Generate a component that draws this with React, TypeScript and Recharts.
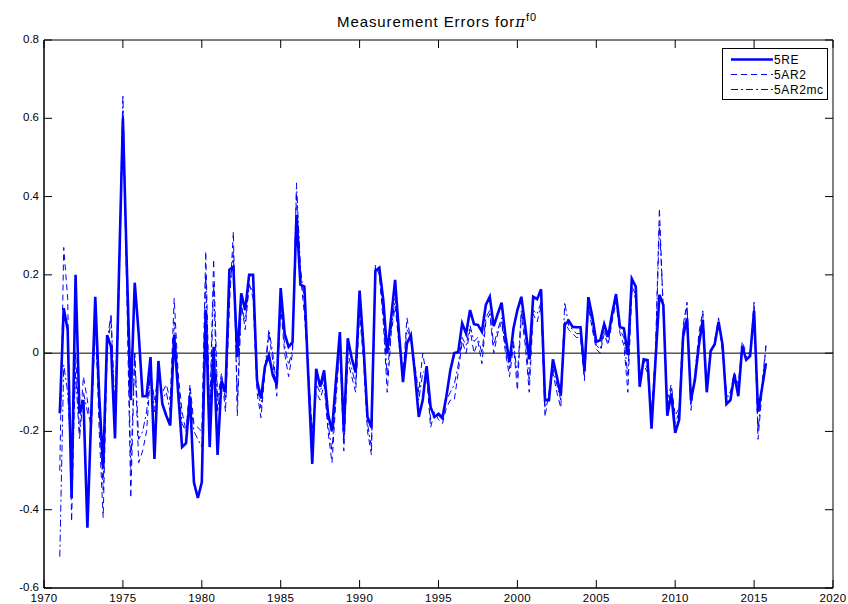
import {
  LineChart,
  Line,
  XAxis,
  YAxis,
  ReferenceLine,
  ReferenceArea,
  Legend,
} from "recharts";

// quarterly observations, first one is 1971Q1
const startYear = 1971;

const re5 = [
  -0.154, 0.115, 0.06, -0.37, 0.2, -0.154, -0.12, -0.446, -0.15, 0.144,
  -0.11, -0.295, 0.046, 0.016, -0.218, 0.2, 0.6, 0.22, -0.12, 0.18,
  0.05, -0.11, -0.11, -0.01, -0.27, -0.02, -0.13, -0.16, -0.185, 0.046,
  -0.1, -0.24, -0.23, -0.11, -0.33, -0.37, -0.33, 0.11, -0.24, 0.016,
  -0.26, -0.07, -0.1, 0.213, 0.22, -0.01, 0.153, 0.11, 0.2, 0.2,
  -0.07, -0.116, -0.035, -0.005, -0.056, -0.08, 0.166, 0.05, 0.016, 0.028,
  0.353, 0.175, 0.17, -0.06, -0.283, -0.04, -0.086, -0.044, -0.155, -0.2,
  -0.07, 0.054, -0.2, 0.038, -0.013, -0.05, 0.16, 0.016, -0.163, -0.19,
  0.21, 0.218, 0.136, 0, 0.09, 0.187, 0.05, -0.074, 0.025, 0.046,
  -0.05, -0.163, -0.12, -0.033, -0.138, -0.163, -0.155, -0.165, -0.11, -0.044,
  0, 0.003, 0.076, 0.05, 0.11, 0.074, 0.072, 0.055, 0.123, 0.144,
  0.069, 0.1, 0.129, 0.042, -0.023, 0.063, 0.11, 0.144, 0.067, -0.016,
  0.144, 0.138, 0.163, -0.12, -0.12, -0.016, -0.06, -0.108, 0.072, 0.083,
  0.067, 0.066, 0.066, -0.045, 0.143, 0.093, 0.029, 0.033, 0.074, 0.042,
  0.1, 0.151, 0.067, 0.063, -0.005, 0.19, 0.17, -0.086, -0.016, -0.018,
  -0.193, -0.02, 0.149, 0.123, -0.16, -0.103, -0.204, -0.17, 0.042, 0.089,
  -0.12, -0.068, 0.02, 0.085, -0.1, 0.006, 0.022, 0.08, 0.022, -0.13,
  -0.12, -0.055, -0.11, 0.018, -0.017, -0.007, 0.108, -0.15, -0.09, -0.026,
];

const ar2 = [
  -0.3, 0.27, 0.14, -0.43, 0.0, -0.2, -0.06, -0.12, -0.2, 0.1,
  -0.2, -0.42, 0.0, 0.09, -0.2, 0.15, 0.62, 0.15, -0.37, 0.0,
  -0.28, -0.25, -0.2, -0.05, -0.12, -0.05, -0.1, -0.08, -0.12, 0.14,
  -0.05, -0.15, -0.2, -0.08, -0.18, -0.19, -0.2, 0.26, -0.16, 0.24,
  -0.12, -0.05, -0.15, 0.12, 0.31, -0.16, 0.13, 0.06, 0.18, 0.14,
  -0.1, -0.165, -0.05, 0.05, -0.02, -0.11, 0.12, 0.0, -0.06, 0.0,
  0.41, 0.2, 0.1, -0.04, -0.2, -0.1, -0.12, -0.08, -0.2, -0.28,
  -0.12, 0.02, -0.25, -0.02, -0.06, -0.1, 0.1, -0.02, -0.2, -0.26,
  0.225, 0.2, 0.08, -0.1, 0.05, 0.12, 0.02, -0.06, 0.09, 0.03,
  -0.03, -0.1, 0.0, -0.06, -0.19, -0.15, -0.17, -0.18, -0.14, -0.12,
  -0.12, -0.05, 0.03, 0.0, 0.06, 0.0, 0.03, -0.027, 0.08, 0.1,
  0.0, 0.05, 0.08, 0.0, -0.06, 0.02, -0.095, 0.1, 0.02, -0.1,
  0.1, 0.08, 0.12, -0.163, -0.1, -0.05, -0.1, -0.14, 0.08, 0.06,
  0.05, 0.04, 0.04, -0.07, 0.12, 0.06, 0.01, 0.0, 0.05, 0.02,
  0.08, 0.13, 0.05, 0.02, -0.1, 0.16, 0.14, -0.05, -0.03, -0.05,
  -0.15, 0.0, 0.37, 0.1, -0.12, -0.08, -0.16, -0.14, 0.07, 0.13,
  -0.146, -0.05, 0.05, 0.108, -0.08, 0.0, 0.03, 0.09, 0.0, -0.1,
  -0.1, -0.05, -0.08, 0.03, 0.0, 0.0, 0.13, -0.22, -0.1, 0.018,
];

const ar2mc = [
  -0.52, -0.03, -0.1, -0.3, -0.05, -0.22, -0.1, -0.15, -0.18, 0.08,
  -0.15, -0.35, 0.03, 0.1, -0.15, 0.2, 0.66, 0.2, -0.3, 0.0,
  -0.22, -0.2, -0.15, -0.05, -0.15, -0.04, -0.12, -0.1, -0.15, 0.08,
  -0.08, -0.18, -0.2, -0.1, -0.2, -0.22, -0.24, 0.2, -0.18, 0.18,
  -0.15, -0.06, -0.12, 0.15, 0.26, -0.12, 0.12, 0.08, 0.17, 0.16,
  -0.08, -0.14, -0.04, 0.06, 0.0, -0.09, 0.14, 0.02, -0.03, 0.01,
  0.435, 0.22, 0.13, -0.05, -0.22, -0.08, -0.1, -0.06, -0.18, -0.25,
  -0.1, 0.03, -0.23, 0.0, -0.04, -0.08, 0.12, 0.0, -0.18, -0.24,
  0.22, 0.2, 0.1, -0.06, 0.06, 0.14, 0.03, -0.05, 0.06, 0.04,
  -0.04, -0.12, -0.05, -0.04, -0.17, -0.16, -0.16, -0.17, -0.12, -0.1,
  -0.08, -0.03, 0.04, 0.02, 0.07, 0.03, 0.04, 0.0, 0.09, 0.11,
  0.02, 0.06, 0.09, 0.01, -0.04, 0.03, -0.06, 0.11, 0.04, -0.07,
  0.11, 0.1, 0.13, -0.14, -0.11, -0.04, -0.08, -0.12, 0.13, 0.07,
  0.06, 0.05, 0.05, -0.06, 0.13, 0.07, 0.02, 0.01, 0.06, 0.03,
  0.09, 0.14, 0.06, 0.04, -0.06, 0.17, 0.15, -0.07, -0.02, -0.04,
  -0.17, 0.0, 0.33, 0.11, -0.14, -0.09, -0.18, -0.15, 0.06, 0.12,
  -0.13, -0.06, 0.03, 0.1, -0.09, 0.0, 0.02, 0.08, 0.01, -0.11,
  -0.11, -0.05, -0.1, 0.02, -0.01, 0.0, 0.12, -0.2, -0.08, 0.02,
];

const xTicks = [1970, 1975, 1980, 1985, 1990, 1995, 2000, 2005, 2010, 2015, 2020];
const yTicks = [-0.6, -0.4, -0.2, 0, 0.2, 0.4, 0.6, 0.8];
const seriesNames = ["5RE", "5AR2", "5AR2mc"];

const data = re5.map((v, i) => ({
  t: startYear + i / 4,
  re5: v,
  ar2: ar2[i],
  ar2mc: ar2mc[i],
}));

const W = 848;
const H = 604;
const TOP = 40;
const BOTTOM = 588;
const LEFT = 44;
const RIGHT = 833;
const TICK = 8;
const BLUE = "#0000ff";
const FONT = "'Liberation Sans', Arial, Helvetica, sans-serif";

const styles = [
  { key: "re5", width: 2.6, dash: undefined },
  { key: "ar2", width: 1, dash: "6 4" },
  { key: "ar2mc", width: 1, dash: "7 3 2 3" },
];

function XTick({ x, y, payload }: any) {
  return (
    <g>
      <line x1={x} x2={x} y1={y} y2={y - TICK} stroke="#000" />
      <line x1={x} x2={x} y1={TOP} y2={TOP + TICK} stroke="#000" />
      <text
        x={x}
        y={y + 14}
        textAnchor="middle"
        fontSize={11.5}
        letterSpacing={0.4}
        fontFamily={FONT}
        fill="#000"
      >
        {payload.value}
      </text>
    </g>
  );
}

function YTick({ x, y, payload }: any) {
  return (
    <g>
      <line x1={x} x2={x + TICK} y1={y} y2={y} stroke="#000" />
      <line x1={RIGHT} x2={RIGHT - TICK} y1={y} y2={y} stroke="#000" />
      <text x={x - 5} y={y + 3} textAnchor="end" fontSize={11.5} fontFamily={FONT} fill="#000">
        {String(payload.value)}
      </text>
    </g>
  );
}

function LegendBox() {
  return (
    <div
      style={{
        width: 106,
        height: 52,
        border: "1px solid #000",
        background: "#fff",
        boxSizing: "border-box",
        fontFamily: FONT,
        fontSize: 12,
        letterSpacing: 0.6,
      }}
    >
      {seriesNames.map((name, i) => (
        <div key={name} style={{ display: "flex", alignItems: "center", height: 15, marginTop: i === 0 ? 3 : 0 }}>
          <svg width={50} height={15}>
            <line
              x1={8}
              x2={50}
              y1={7.5}
              y2={7.5}
              stroke={BLUE}
              strokeWidth={styles[i].width}
              strokeDasharray={styles[i].dash}
            />
          </svg>
          <span style={{ marginLeft: 1 }}>{name}</span>
        </div>
      ))}
    </div>
  );
}

export default function App() {
  return (
    <div style={{ position: "absolute", left: 0, top: 0, width: W, height: H, background: "#fff" }}>
      <div
        style={{
          position: "absolute",
          left: 0,
          width: W,
          top: 11,
          textAlign: "center",
          fontFamily: FONT,
          fontSize: 15,
          letterSpacing: 0.9,
          paddingLeft: 26,
          boxSizing: "border-box",
        }}
      >
        Measurement Errors for<span style={{ fontFamily: "'DejaVu Serif', serif", fontStyle: "italic" }}>π</span>
        <sup style={{ fontSize: 11 }}>f0</sup>
      </div>
      <LineChart
        width={W}
        height={H}
        data={data}
        margin={{ top: TOP, right: W - RIGHT, bottom: 0, left: 0 }}
      >
        <XAxis
          dataKey="t"
          type="number"
          domain={[1970, 2020]}
          ticks={xTicks}
          height={H - BOTTOM}
          tickSize={0}
          tickMargin={0}
          tick={<XTick />}
          stroke="#000"
          interval={0}
        />
        <YAxis
          type="number"
          domain={[-0.6, 0.8]}
          ticks={yTicks}
          width={LEFT}
          tickSize={0}
          tickMargin={0}
          tick={<YTick />}
          stroke="#000"
          interval={0}
        />
        <ReferenceArea x1={1970} x2={2020} y1={-0.6} y2={0.8} fill="none" stroke="#000" strokeOpacity={1} />
        <ReferenceLine y={0} stroke="#000" />
        {styles.map((s, i) => (
          <Line
            key={s.key}
            dataKey={s.key}
            name={seriesNames[i]}
            type="linear"
            stroke={BLUE}
            strokeWidth={s.width}
            strokeDasharray={s.dash}
            dot={false}
            isAnimationActive={false}
          />
        ))}
        <Legend
          layout="vertical"
          align="center"
          verticalAlign="middle"
          wrapperStyle={{ left: 722, top: 48, width: 106 }}
          content={() => <LegendBox />}
        />
      </LineChart>
    </div>
  );
}
